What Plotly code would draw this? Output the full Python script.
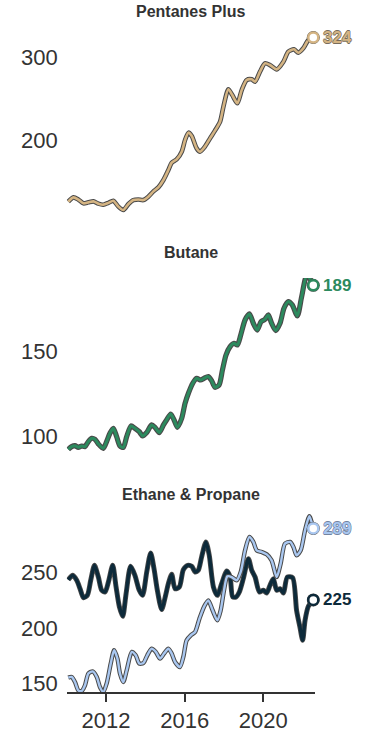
import plotly.graph_objects as go

# ---------------- data ----------------
pentanes_x = [2010.08, 2010.34, 2010.59, 2010.85, 2011.10, 2011.36, 2011.61, 2011.86, 2012.12, 2012.37,
              2012.63, 2012.88, 2013.14, 2013.39, 2013.64, 2013.90, 2014.15, 2014.41, 2014.66, 2014.92,
              2015.17, 2015.34, 2015.59, 2015.85, 2016.02, 2016.19, 2016.36, 2016.61, 2016.78, 2017.03,
              2017.29, 2017.54, 2017.80, 2017.97, 2018.22, 2018.42, 2018.68, 2018.90, 2019.15, 2019.41,
              2019.58, 2019.83, 2020.08, 2020.34, 2020.68, 2021.02, 2021.27, 2021.56, 2021.78, 2022.03,
              2022.29, 2022.54]
pentanes_y = [125.4, 130.6, 128, 123.4, 124.6, 125.8, 123, 121.8, 124, 126.6,
              119.4, 115.3, 122.6, 127.4, 128, 127.4, 131.5, 137.9, 142.7, 151.6,
              163.7, 172.6, 176.6, 185.9, 200, 208.9, 204.8, 189.9, 185.9, 192,
              202, 211.3, 222.2, 240.3, 261.3, 254.4, 244.4, 260.5, 272.6, 273.4,
              270.6, 282.7, 292.7, 290.7, 285.5, 294.8, 306.9, 309.7, 305.6, 310.9,
              321, 324]

butane_x = [2010.08, 2010.25, 2010.42, 2010.59, 2010.76, 2010.93, 2011.10, 2011.27, 2011.44, 2011.61,
            2011.86, 2012.03, 2012.20, 2012.37, 2012.54, 2012.71, 2012.88, 2013.05, 2013.27, 2013.47,
            2013.69, 2013.86, 2014.07, 2014.32, 2014.49, 2014.71, 2014.92, 2015.08, 2015.29, 2015.46,
            2015.63, 2015.85, 2016.02, 2016.19, 2016.41, 2016.61, 2016.81, 2016.98, 2017.20, 2017.37,
            2017.54, 2017.75, 2017.92, 2018.10, 2018.31, 2018.51, 2018.68, 2018.85, 2019.07, 2019.29,
            2019.49, 2019.69, 2019.88, 2020.08, 2020.25, 2020.42, 2020.63, 2020.85, 2021.05, 2021.27,
            2021.47, 2021.73, 2021.95, 2022.20, 2022.41, 2022.54]
butane_y = [92.5, 94.1, 94.7, 93.7, 94.5, 94.1, 97.1, 99.0, 98.4, 95.7,
            93.1, 97.1, 102, 104.9, 100, 94.5, 93.7, 100, 106.3, 104.9,
            102.9, 100.4, 102.4, 106.9, 105.5, 102.4, 106.9, 109.8, 113.3, 109.8,
            105.5, 110.8, 119.6, 125.5, 131.4, 134.3, 133.3, 134.3, 135.3, 132.9,
            129, 130.4, 139.2, 148, 152.9, 154.9, 153.9, 159.8, 168.6, 172.2,
            166.7, 162.7, 167.6, 169, 171.6, 166.7, 162.4, 166.7, 175.5, 179.4,
            177.5, 171, 182.4, 194.5, 192.2, 189]

ethane_x = [2010.08, 2010.31, 2010.51, 2010.68, 2010.85, 2011.05, 2011.22, 2011.41, 2011.61, 2011.78,
            2011.95, 2012.12, 2012.34, 2012.51, 2012.68, 2012.85, 2013.02, 2013.25, 2013.47, 2013.69,
            2013.86, 2014.07, 2014.27, 2014.44, 2014.61, 2014.83, 2015.03, 2015.17, 2015.34, 2015.51,
            2015.73, 2015.93, 2016.15, 2016.36, 2016.53, 2016.69, 2016.86, 2017.08, 2017.25, 2017.46,
            2017.66, 2017.88, 2018.14, 2018.31, 2018.44, 2018.61, 2018.78, 2018.98, 2019.24, 2019.41,
            2019.58, 2019.80, 2020.00, 2020.17, 2020.34, 2020.51, 2020.68, 2020.85, 2021.02, 2021.22,
            2021.49, 2021.69, 2021.86, 2022.00, 2022.12, 2022.29, 2022.54]
ethane_y = [243.1, 247, 242.5, 235, 227, 229.1, 242.5, 256, 245.5, 233.6,
            232.1, 241, 256, 236.6, 218.7, 210.3, 230.6, 255.1, 247, 233.6,
            229.1, 250, 267, 253, 233.6, 216.3, 229.1, 239.6, 247.9, 235,
            236.6, 252, 256, 255.1, 250, 251.5, 263.4, 276.9, 264.9, 236.6,
            229.1, 239.6, 250.9, 245.5, 227.6, 227.6, 232.1, 244, 261.9, 251.5,
            245.5, 232.1, 233.6, 231.2, 238.1, 244, 233.6, 235, 231.2, 245.5,
            244.9, 215.7, 200.7, 188.8, 206.6, 219.3, 225]

propane_x = [2010.08, 2010.25, 2010.42, 2010.59, 2010.76, 2010.93, 2011.10, 2011.32, 2011.53, 2011.69,
             2011.86, 2012.03, 2012.24, 2012.41, 2012.58, 2012.71, 2012.88, 2013.05, 2013.31, 2013.51,
             2013.69, 2013.90, 2014.10, 2014.32, 2014.53, 2014.75, 2014.95, 2015.17, 2015.34, 2015.51,
             2015.76, 2015.93, 2016.10, 2016.31, 2016.53, 2016.75, 2016.98, 2017.20, 2017.42, 2017.66,
             2017.83, 2018.00, 2018.17, 2018.39, 2018.64, 2018.85, 2019.07, 2019.29, 2019.49, 2019.66,
             2019.92, 2020.17, 2020.42, 2020.68, 2020.88, 2021.10, 2021.36, 2021.53, 2021.69, 2021.90,
             2022.12, 2022.34, 2022.54]
propane_y = [155.4, 156, 151.5, 144, 143.4, 148.5, 159, 161, 156, 147,
             142.5, 150, 168, 179.9, 172.4, 159, 151.5, 161.9, 178.4, 175.4,
             168, 168.5, 175.4, 181.3, 178.4, 172.4, 176.9, 181.3, 176.9, 169.4,
             164.9, 173.9, 188.8, 193.3, 196.3, 208.2, 218.7, 224.6, 215.7, 206.7,
             215.7, 233.6, 246.1, 245.5, 242.5, 250, 269.4, 281.3, 276.9, 269.4,
             267.9, 265.8, 260.4, 245.5, 257.5, 275.4, 276.9, 272.4, 264.9, 269.4,
             287.3, 299.9, 289]

titles = ["Pentanes Plus", "Butane", "Ethane & Propane"]
x_ticks = [2012, 2016, 2020]
y_ticks_1 = [200, 300]
y_ticks_2 = [100, 150]
y_ticks_3 = [150, 200, 250]

# ---------------- style ----------------
FONT = "Liberation Sans, Arial, Helvetica, sans-serif"
TXT = "#333333"
OUTLINE = "#4a4a4a"
TAN = "#D4B483"
GREEN = "#2C8A5E"
LBLUE = "#A9C7F0"
NAVY = "#0D2A3A"

W, H = 366, 733
X0, X1 = 66.7, 315.0


def ydom(top_px, bot_px):
    return [(H - bot_px) / H, (H - top_px) / H]


fig = go.Figure()


def add_series(x, y, color, xa, ya, inner_w, outer_w, shadow_col):
    common = dict(x=x, y=y, mode="lines", xaxis=xa, yaxis=ya,
                  hoverinfo="skip", showlegend=False)
    fig.add_trace(go.Scatter(**common, line=dict(color=OUTLINE, width=outer_w,
                                                 shape="spline", smoothing=0.7)))
    fig.add_trace(go.Scatter(**common, line=dict(color=color, width=inner_w,
                                                 shape="spline", smoothing=0.7)))
    fig.add_trace(go.Scatter(x=[x[-1]], y=[y[-1]], mode="markers", xaxis=xa, yaxis=ya,
                             marker=dict(size=13, color=OUTLINE), cliponaxis=False,
                             hoverinfo="skip", showlegend=False))
    fig.add_trace(go.Scatter(x=[x[-1]], y=[y[-1]], mode="markers", xaxis=xa, yaxis=ya,
                             marker=dict(size=10, color="white",
                                         line=dict(color=color, width=2.5)),
                             cliponaxis=False, hoverinfo="skip", showlegend=False))
    font = dict(family=FONT, size=17, color=color, weight="bold")
    if shadow_col:
        font["shadow"] = ", ".join(f"{dx}px {dy}px 0 {shadow_col}" for dx, dy in
                                   [(-0.6, 0), (0.6, 0), (0, -0.6), (0, 0.6)])
    fig.add_annotation(x=x[-1], y=y[-1], xref=xa, yref=ya, text=f"{round(y[-1])}",
                       xanchor="left", yanchor="middle", xshift=8, showarrow=False,
                       font=font)


add_series(pentanes_x, pentanes_y, TAN, "x", "y", 2.6, 4.6, "#776c5c")
add_series(butane_x, butane_y, GREEN, "x2", "y2", 3.0, 5.2, None)
add_series(ethane_x, ethane_y, NAVY, "x3", "y3", 3.4, 5.0, None)
add_series(propane_x, propane_y, LBLUE, "x3", "y3", 2.4, 4.4, "#7484a0")

xr = [2010.0, 2022.627]
xdom = [X0 / W, X1 / W]
tickfont = dict(family=FONT, size=22, color=TXT)

hidden_x = dict(range=xr, domain=xdom, visible=False)
fig.update_layout(
    width=W, height=H, margin=dict(l=0, r=0, t=0, b=0),
    paper_bgcolor="white", plot_bgcolor="white", showlegend=False,
    xaxis=dict(hidden_x, anchor="y"),
    xaxis2=dict(hidden_x, anchor="y2"),
    xaxis3=dict(range=xr, domain=xdom, anchor="y3", showline=True, linecolor="#333",
                linewidth=1.5, ticks="outside", ticklen=8, tickwidth=1.5, tickcolor="#333",
                tickvals=x_ticks, ticktext=[str(t) for t in x_ticks], tickfont=tickfont,
                showgrid=False, zeroline=False),
)

yc = dict(showgrid=False, zeroline=False, showline=False, ticks="", tickfont=tickfont,
          ticklabelstandoff=8, automargin=False)
fig.update_layout(
    yaxis=dict(yc, domain=ydom(30, 215), range=[109.3, 333.1], tickvals=y_ticks_1, anchor="x"),
    yaxis2=dict(yc, domain=ydom(278, 455), range=[89.2, 193.3], tickvals=y_ticks_2, anchor="x2"),
    yaxis3=dict(yc, domain=ydom(505, 692), range=[142.5, 310], tickvals=y_ticks_3, anchor="x3"),
)

for t, ypx in zip(titles, [12, 253, 494]):
    fig.add_annotation(x=(X0 + X1) / 2 / W, y=(H - ypx) / H, xref="paper", yref="paper",
                       text=f"<b>{t}</b>", showarrow=False, xanchor="center", yanchor="middle",
                       font=dict(family=FONT, size=16, color=TXT))

fig.write_html(
    "out.html",
    config={"displayModeBar": False},
    post_script="document.body.style.margin='0';document.body.style.overflow='hidden';",
)
